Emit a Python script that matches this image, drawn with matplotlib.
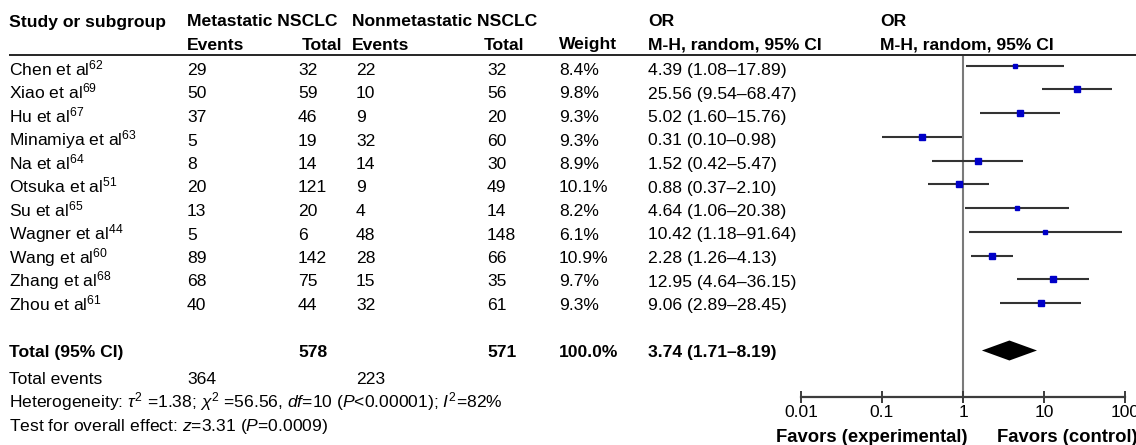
import matplotlib
matplotlib.use("Agg")
import matplotlib.pyplot as plt

plt.rcParams["font.family"] = ["Liberation Sans", "DejaVu Sans"]
plt.rcParams["mathtext.fontset"] = "custom"
plt.rcParams["mathtext.rm"] = "Liberation Sans"
plt.rcParams["mathtext.it"] = "Liberation Sans:italic"
plt.rcParams["mathtext.bf"] = "Liberation Sans:bold"

# ---- data -------------------------------------------------------------
studies = ["Chen et al", "Xiao et al", "Hu et al", "Minamiya et al", "Na et al",
           "Otsuka et al", "Su et al", "Wagner et al", "Wang et al",
           "Zhang et al", "Zhou et al"]
refs = ["62", "69", "67", "63", "64", "51", "65", "44", "60", "68", "61"]
met_events = [29, 50, 37, 5, 8, 20, 13, 5, 89, 68, 40]
met_total = [32, 59, 46, 19, 14, 121, 20, 6, 142, 75, 44]
non_events = [22, 10, 9, 32, 14, 9, 4, 48, 28, 15, 32]
non_total = [32, 56, 20, 60, 30, 49, 14, 148, 66, 35, 61]
weights = [8.4, 9.8, 9.3, 9.3, 8.9, 10.1, 8.2, 6.1, 10.9, 9.7, 9.3]
or_est = [4.39, 25.56, 5.02, 0.31, 1.52, 0.88, 4.64, 10.42, 2.28, 12.95, 9.06]
ci_low = [1.08, 9.54, 1.60, 0.10, 0.42, 0.37, 1.06, 1.18, 1.26, 4.64, 2.89]
ci_high = [17.89, 68.47, 15.76, 0.98, 5.47, 2.10, 20.38, 91.64, 4.13, 36.15, 28.45]

total_met, total_non = 578, 571
events_met, events_non = 364, 223
pooled_or, pooled_low, pooled_high = 3.74, 1.71, 8.19

tick_values = [0.01, 0.1, 1, 10, 100]
tick_labels = ["0.01", "0.1", "1", "10", "100"]

# ---- layout -----------------------------------------------------------
W, H = 1136, 445
FS = 12.6
ROW0, STEP = 65.5, 23.75                  # forest row centres (pixels)
TEXT0, TSTEP = 75, 23.5                   # table text baselines (pixels)
AX_TOP, AX_BOTTOM = 55.7, 397             # header rule / OR axis (pixels)
AX_LEFT, AX_RIGHT = 801, 1125             # 0.01 and 100 on the OR axis

fig = plt.figure(figsize=(W / 100, H / 100), dpi=100)
ax = fig.add_axes([0, 0, 1, 1])
ax.set_xlim(0, W)
ax.set_ylim(H, 0)
ax.axis("off")


def txt(x, y, s, bold=False, ha="left", size=FS):
    ax.text(x, y, s, fontsize=size, fontweight="bold" if bold else "normal",
            ha=ha, va="baseline", color="black")


# header
h1, h2 = 26.5, 49.5
txt(9, h1, "Study or subgroup", True)
txt(187, h1, "Metastatic NSCLC", True)
txt(352, h1, "Nonmetastatic NSCLC", True)
txt(648, h1, "OR", True)
txt(880, h1, "OR", True)
txt(187, h2, "Events", True)
txt(302, h2, "Total", True)
txt(352, h2, "Events", True)
txt(484, h2, "Total", True)
txt(559, h2, "Weight", True)
txt(648, h2, "M-H, random, 95% CI", True)
txt(880, h2, "M-H, random, 95% CI", True)
ax.plot([9, W], [AX_TOP - 0.5, AX_TOP - 0.5], color="black", lw=1.2,
        solid_capstyle="butt")

# study rows
for i, name in enumerate(studies):
    yb = TEXT0 + TSTEP * i
    txt(9, yb, name + r"$^{" + refs[i] + "}$")
    txt(187, yb, str(met_events[i]))
    txt(298, yb, str(met_total[i]))
    txt(356, yb, str(non_events[i]))
    txt(487, yb, str(non_total[i]))
    txt(559, yb, f"{weights[i]:.1f}%")
    txt(648, yb, f"{or_est[i]:.2f} ({ci_low[i]:.2f}\u2013{ci_high[i]:.2f})")

# pooled row
r_total = len(studies) + 1
yb = TEXT0 + TSTEP * r_total
txt(9, yb, "Total (95% CI)", True)
txt(298, yb, str(total_met), True)
txt(487, yb, str(total_non), True)
txt(559, yb, f"{sum(weights):.1f}%", True)
txt(648, yb, f"{pooled_or:.2f} ({pooled_low:.2f}\u2013{pooled_high:.2f})", True)

txt(9, 383.5, "Total events")
txt(187, 383.5, str(events_met))
txt(356, 383.5, str(events_non))
txt(9, 407, r"Heterogeneity: $\tau^2$ =1.38; $\chi^2$ =56.56, $df$=10 ($P$<0.00001); $I^2$=82%")
txt(9, 431.5, r"Test for overall effect: $z$=3.31 ($P$=0.0009)")

txt(967, 442, "Favors (experimental)", True, ha="right", size=13.3)
txt(997, 442, "Favors (control)", True, size=13.3)

# ---- forest panel ------------------------------------------------------
fx = fig.add_axes([AX_LEFT / W, (H - AX_BOTTOM) / H,
                   (AX_RIGHT - AX_LEFT) / W, (AX_BOTTOM - AX_TOP) / H])
fx.set_xscale("log")
fx.set_xlim(tick_values[0], tick_values[-1])
fx.set_ylim((AX_BOTTOM - ROW0) / STEP, (AX_TOP - ROW0) / STEP)
fx.patch.set_visible(False)
for side in ("top", "left", "right"):
    fx.spines[side].set_visible(False)
fx.spines["bottom"].set_color("#3c3c3c")
fx.spines["bottom"].set_linewidth(1.6)
fx.set_yticks([])
fx.set_xticks(tick_values)
fx.set_xticklabels(tick_labels, fontsize=FS)
fx.xaxis.set_minor_locator(plt.NullLocator())
fx.tick_params(axis="x", direction="inout", length=8, width=1.4,
               color="#3c3c3c", pad=2)

fx.axvline(1, color="#7a7a7a", lw=1.5, zorder=1)

rows = list(range(len(studies)))
fx.hlines(rows, ci_low, ci_high, color="#333333", lw=1.5, zorder=2)
for r, o, w in zip(rows, or_est, weights):
    side_px = 2.2 + 0.32 * w
    fx.plot(o, r, marker="s", ms=side_px * 0.72, color="#0000c8",
            mec="#0000c8", zorder=3, clip_on=False)

half_h = 10 / STEP
fx.fill([pooled_low, pooled_or, pooled_high, pooled_or],
        [r_total, r_total - half_h, r_total, r_total + half_h],
        color="black", lw=0, zorder=3)

fig.savefig("out.png", dpi=100)
